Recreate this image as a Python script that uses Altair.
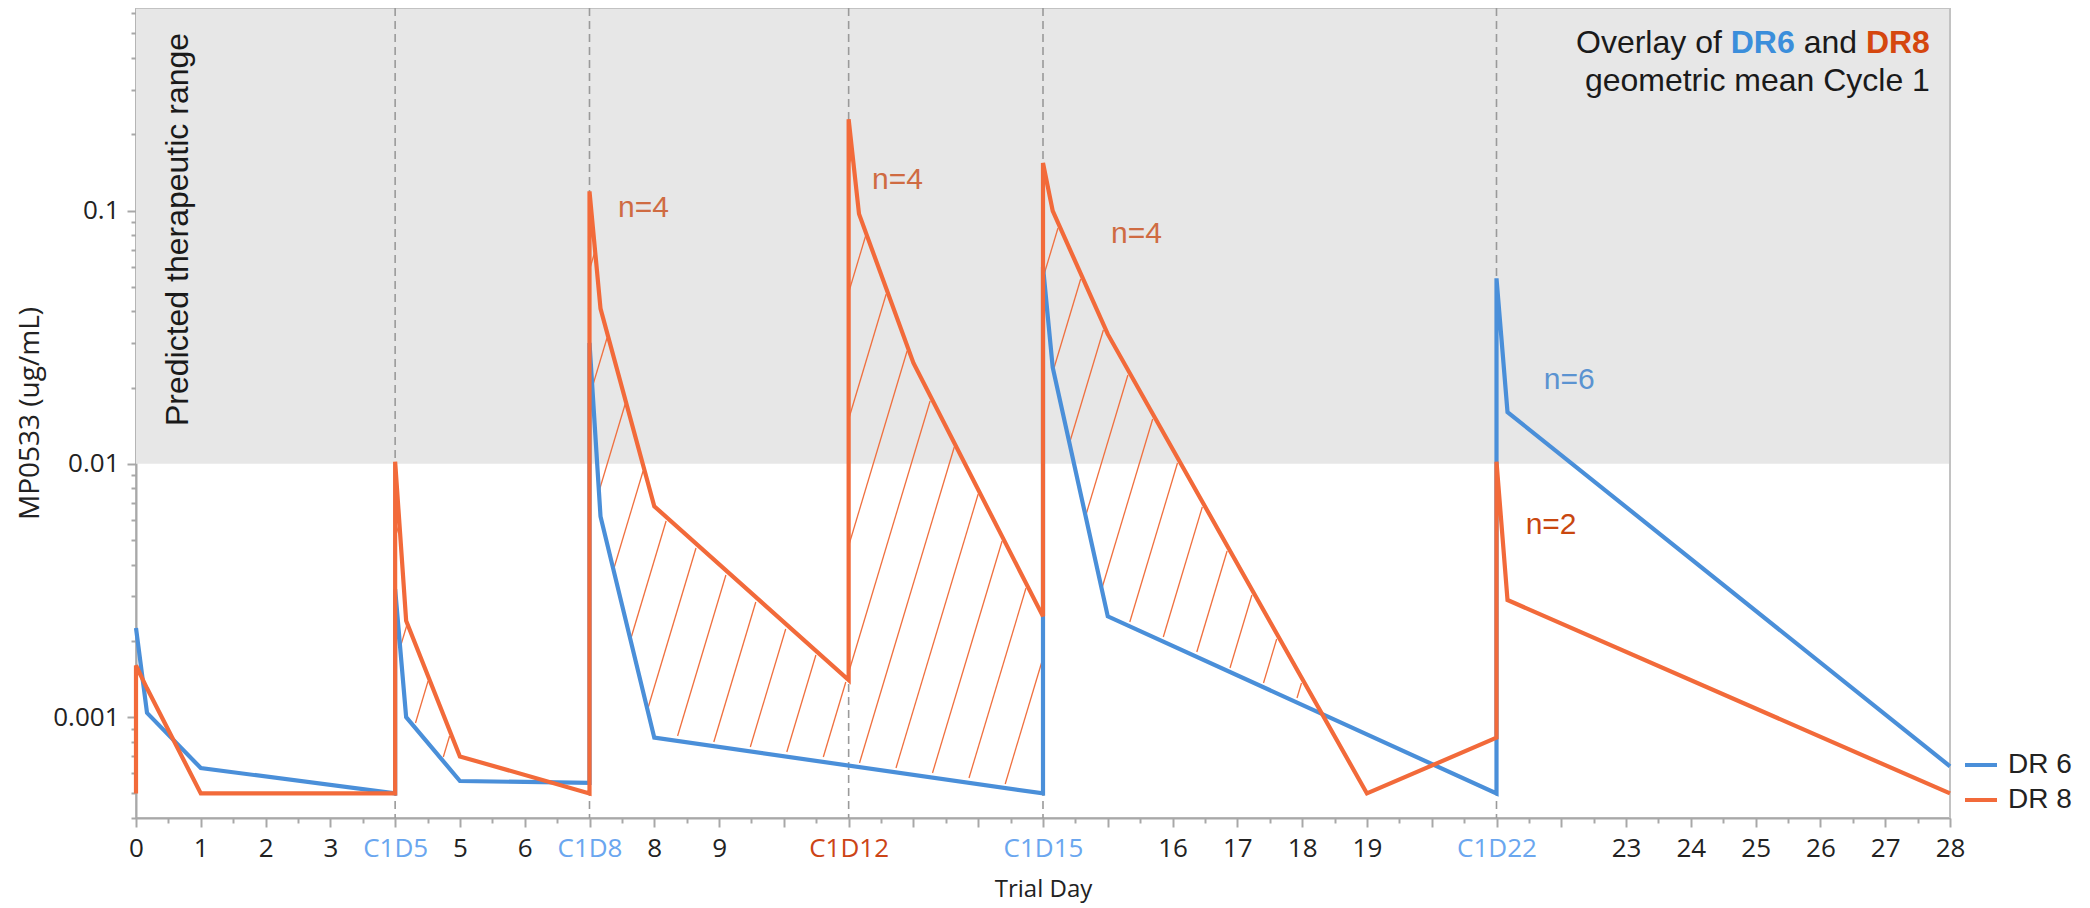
import altair as alt
import pandas as pd
import numpy as np

# ---------------- data ----------------
days_dr6 = [0, 0.17, 1, 4, 4, 4.17, 5, 7, 7, 7.17, 8, 14, 14, 14.15, 15, 21, 21, 21.17, 28]
conc_dr6 = [0.00225, 0.00104, 0.00063, 0.0005, 0.0032, 0.001, 0.00056, 0.00055, 0.03, 0.0062,
            0.00083, 0.0005, 0.06, 0.024, 0.0025, 0.0005, 0.054, 0.016, 0.00064]
days_dr8 = [0, 0, 0.17, 1, 4, 4, 4.17, 5, 7, 7, 7.17, 8, 11, 11, 11.16, 12, 14, 14, 14.15, 15,
            19, 21, 21, 21.17, 28]
conc_dr8 = [0.0005, 0.0016, 0.0013, 0.0005, 0.0005, 0.0102, 0.0024, 0.0007, 0.0005, 0.119,
            0.041, 0.0068, 0.0014, 0.229, 0.097, 0.025, 0.0025, 0.154, 0.0996, 0.0325,
            0.0005, 0.00083, 0.0102, 0.0029, 0.0005]
series_names = ["DR 6", "DR 8"]

dose_days = [4, 7, 11, 14, 21]
band_conc = [0.01, 0.63]          # predicted therapeutic range (shaded)
band_days = [0, 28]

xlabel_days = [0, 1, 2, 3, 4, 5, 6, 7, 8, 9, 11, 14, 16, 17, 18, 19, 21, 23, 24, 25, 26, 27, 28]
xlabel_text = ["0", "1", "2", "3", "C1D5", "5", "6", "C1D8", "8", "9", "C1D12", "C1D15",
               "16", "17", "18", "19", "C1D22", "23", "24", "25", "26", "27", "28"]
ylabel_vals = [0.001, 0.01, 0.1]
ylabel_text = ["0.001", "0.01", "0.1"]

ann_text = ["n=4", "n=4", "n=4", "n=6", "n=2"]
ann_day = [7.44, 11.36, 15.05, 21.73, 21.45]
ann_conc = [0.0944, 0.1216, 0.0745, 0.0197, 0.00528]
ann_color = ["#cf6b42", "#cf6b42", "#cf6b42", "#5b93d1", "#c9470f"]

hatch_ranges = [(4.0, 5.0), (7.0, 18.6)]

# ---------------- geometry / style ----------------
W, H = 1814, 810
XMIN, XMAX = 0, 28
YMIN, YMAX = 0.0004, 0.63
L0, L1 = np.log10(YMIN), np.log10(YMAX)
BLUE = "#4a8fd9"
ORANGE = "#f26a3a"
HATCH = "#f0703f"
AXIS_GRAY = "#a8a8a8"
FRAME_GRAY = "#c2c2c2"
TXT = "#222222"

# ---------------- hatch lines derived from the two curves ----------------
def eval_log(xs, vs, d):
    lv = np.log10(vs)
    for i in range(len(xs) - 1):
        x0, x1 = xs[i], xs[i + 1]
        if x1 > x0 and x0 <= d < x1:
            t = (d - x0) / (x1 - x0)
            return lv[i] + t * (lv[i + 1] - lv[i])
    return lv[-1]

def ypix(lv):
    return (L1 - lv) / (L1 - L0) * H

HATCH_GAP = 38.0
HATCH_K = 0.3
segs = []
for c in np.arange(-H * HATCH_K, W, HATCH_GAP):
    run = []
    for yy in np.arange(H, 0, -1.0):
        xx = c + (H - yy) * HATCH_K
        ok = False
        if 0 <= xx <= W:
            d = xx * (XMAX - XMIN) / W
            if any(a <= d <= b for a, b in hatch_ranges):
                top = ypix(eval_log(days_dr8, conc_dr8, d))
                bot = ypix(eval_log(days_dr6, conc_dr6, d))
                ok = (top + 4) < yy < (bot - 4)
        if ok:
            run.append((xx, yy))
        else:
            if len(run) > 5:
                segs.append((run[0], run[-1]))
            run = []
    if len(run) > 5:
        segs.append((run[0], run[-1]))

def to_day(x):
    return x * (XMAX - XMIN) / W

def to_conc(y):
    return 10 ** (L1 - y / H * (L1 - L0))

hatch_df = pd.DataFrame({
    "d0": [to_day(a[0]) for a, b in segs],
    "v0": [to_conc(a[1]) for a, b in segs],
    "d1": [to_day(b[0]) for a, b in segs],
    "v1": [to_conc(b[1]) for a, b in segs],
})

# ---------------- tables ----------------
lines_df = pd.concat([
    pd.DataFrame({"day": days_dr6, "conc": conc_dr6, "series": series_names[0],
                  "idx": range(len(days_dr6))}),
    pd.DataFrame({"day": days_dr8, "conc": conc_dr8, "series": series_names[1],
                  "idx": range(len(days_dr8))}),
])
band_df = pd.DataFrame({"d0": [band_days[0]], "d1": [band_days[1]],
                        "v0": [band_conc[0]], "v1": [band_conc[1]]})
dose_df = pd.DataFrame({"day": dose_days})
ann_df = pd.DataFrame({"text": ann_text, "day": ann_day, "conc": ann_conc, "color": ann_color})

# ---------------- axes ----------------
def ternary(vals, texts, default="''"):
    expr = default
    for v, t in reversed(list(zip(vals, texts))):
        expr = f"abs(datum.value - {v}) < 1e-9 ? '{t}' : ({expr})"
    return expr

x_ticks = [i * 0.5 for i in range(57)]
y_ticks = []
for dec in [0.0001, 0.001, 0.01, 0.1]:
    for m in range(1, 10):
        v = round(m * dec, 6)
        if YMIN <= v <= YMAX:
            y_ticks.append(v)

xscale = alt.Scale(domain=[XMIN, XMAX], nice=False, zero=False)
yscale = alt.Scale(type="log", domain=[YMIN, YMAX], nice=False)

xaxis = alt.Axis(
    values=x_ticks, labelExpr=ternary(xlabel_days, xlabel_text), grid=False,
    domainColor=AXIS_GRAY, domainWidth=2, tickColor=AXIS_GRAY, tickWidth=2,
    tickSize={"condition": {"test": "datum.value % 1 != 0", "value": 5}, "value": 9},
    labelFont="Open Sans", labelFontSize=26, labelPadding=8, labelOverlap=False,
    labelFlush=False, labelBound=False,
    labelColor={"condition": [
        {"test": "datum.value == 11", "value": "#cc4416"},
        {"test": "indexof([4, 7, 14, 21], datum.value) >= 0", "value": "#6aa6ef"}],
        "value": TXT},
    title="Trial Day", titleFont="Open Sans", titleFontSize=24, titleFontWeight="normal",
    titleColor=TXT, titlePadding=16,
)
yaxis = alt.Axis(
    values=y_ticks, labelExpr=ternary(ylabel_vals, ylabel_text), grid=False,
    domainColor=AXIS_GRAY, domainWidth=2, tickColor=AXIS_GRAY, tickWidth=2,
    tickSize={"condition": {"test": "abs(log(datum.value)/LN10 - round(log(datum.value)/LN10)) < 1e-6",
                            "value": 9}, "value": 5},
    labelFont="Open Sans", labelFontSize=26, labelPadding=8, labelOverlap=False,
    labelFlush=False, labelBound=False, labelColor=TXT,
    title="MP0533 (ug/mL)", titleFont="Open Sans", titleFontSize=28, titleFontWeight="normal",
    titleColor=TXT, titlePadding=8,
)

def X(f):
    return alt.X(f, type="quantitative", scale=xscale, axis=xaxis)

def Y(f):
    return alt.Y(f, type="quantitative", scale=yscale, axis=yaxis)

# ---------------- layers ----------------
band = alt.Chart(band_df).mark_rect(color="#e7e7e7").encode(
    x=X("d0"), x2="d1", y=Y("v0"), y2="v1")

frame_top = alt.Chart(band_df).mark_rule(color=FRAME_GRAY, strokeWidth=2).encode(
    x=X("d0"), x2="d1", y=Y("v1"))
frame_right = alt.Chart(band_df).mark_rule(color=FRAME_GRAY, strokeWidth=2).encode(
    x=X("d1"))

doses = alt.Chart(dose_df).mark_rule(color="#9a9a9a", strokeWidth=1.6, strokeDash=[8, 5]).encode(
    x=X("day"))

hatch = alt.Chart(hatch_df).mark_rule(color=HATCH, strokeWidth=1.3).encode(
    x=X("d0"), x2="d1", y=Y("v0"), y2="v1")

lines = alt.Chart(lines_df).mark_line(strokeWidth=4.2, strokeJoin="miter").encode(
    x=X("day"), y=Y("conc"),
    color=alt.Color("series:N", scale=alt.Scale(domain=series_names, range=[BLUE, ORANGE]),
                    legend=alt.Legend(
                        title=None, orient="none", legendX=1827, legendY=739,
                        symbolType="stroke", symbolSize=1024, symbolStrokeWidth=4,
                        labelFont="Liberation Sans", labelFontSize=28, labelColor=TXT,
                        labelOffset=9, rowPadding=3, padding=0)),
    order="idx:Q",
)

ann = alt.Chart(ann_df).mark_text(font="Liberation Sans", fontSize=30, align="left",
                                  baseline="alphabetic").encode(
    x=X("day"), y=Y("conc"), text="text:N", color=alt.Color("color:N", scale=None))

range_df = pd.DataFrame({"text": ["Predicted therapeutic range"], "day": [0.795], "conc": [0.0141]})
range_txt = alt.Chart(range_df).mark_text(font="Liberation Sans", fontSize=32, align="left",
                                          baseline="alphabetic", angle=270, color="#1a1a1a").encode(
    x=X("day"), y=Y("conc"), text="text:N")

title_day = 27.69
title_l1 = 0.419
title_l2 = 0.2965
t_parts = ["DR8", "and", "DR6", "Overlay of"]
t_dx = [0, -72.9, -135.2, -208.1]
t_weight = ["bold", "normal", "bold", "normal"]
t_color = ["#d5470f", "#1a1a1a", "#3b8edb", "#1a1a1a"]
title_layers = []
for txt, dx, wgt, col in zip(t_parts, t_dx, t_weight, t_color):
    df = pd.DataFrame({"text": [txt], "day": [title_day], "conc": [title_l1]})
    title_layers.append(alt.Chart(df).mark_text(font="Liberation Sans", fontSize=32, align="right",
                                                baseline="alphabetic", dx=dx, fontWeight=wgt,
                                                color=col).encode(
        x=X("day"), y=Y("conc"), text="text:N"))
df2 = pd.DataFrame({"text": ["geometric mean Cycle 1"], "day": [title_day], "conc": [title_l2]})
title_layers.append(alt.Chart(df2).mark_text(font="Liberation Sans", fontSize=32, align="right",
                                             baseline="alphabetic", color="#1a1a1a").encode(
    x=X("day"), y=Y("conc"), text="text:N"))

chart = alt.layer(band, frame_top, frame_right, doses, hatch, lines, ann, range_txt,
                  *title_layers).properties(
    width=W, height=H,
    padding={"left": 128, "top": 0, "right": 124, "bottom": 90},
    autosize=alt.AutoSizeParams(type="none"),
).configure_view(stroke=FRAME_GRAY, strokeWidth=2)

chart.save("out.html", embed_options={"renderer": "svg", "actions": False})
